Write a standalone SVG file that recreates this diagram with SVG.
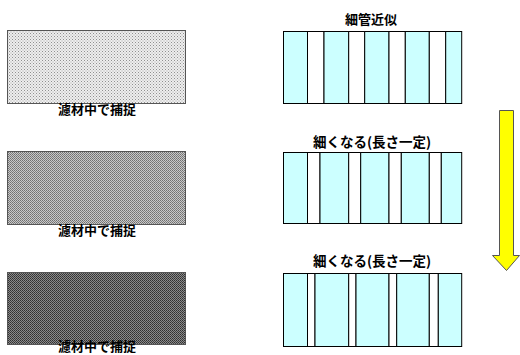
<svg xmlns="http://www.w3.org/2000/svg" width="520" height="355" viewBox="0 0 520 355">
<style>
text{font-family:"Noto Sans CJK JP","Noto Sans",sans-serif;font-weight:bold;font-size:13px;fill:#000;text-anchor:middle}
.wide{font-size:13.5px}
.filt{stroke:#555;stroke-width:1}
.cy{fill:#ccffff;stroke:#000;stroke-width:1}
.wh{fill:#fff;stroke:#000;stroke-width:1}
</style>
<defs>
<pattern id="p1" width="3" height="3" patternUnits="userSpaceOnUse">
<rect width="3" height="3" fill="#eeeeee"/>
<rect x="0" y="0" width="1" height="1" fill="#909090"/>
<rect x="1.5" y="1.5" width="1" height="1" fill="#a8a8a8"/>
</pattern>
<pattern id="p2" width="2" height="2" patternUnits="userSpaceOnUse">
<rect width="2" height="2" fill="#c8c8c8"/>
<rect x="0" y="0" width="1" height="1" fill="#707070"/>
<rect x="1" y="1" width="1" height="1" fill="#808080"/>
</pattern>
<pattern id="p3" width="2" height="2" patternUnits="userSpaceOnUse">
<rect width="2" height="2" fill="#8a8a8a"/>
<rect x="0" y="0" width="1" height="1" fill="#303030"/>
<rect x="1" y="1" width="1" height="1" fill="#404040"/>
</pattern>
</defs>
<g id="filter1">
<rect class="filt" x="7.5" y="30.5" width="178" height="73" fill="url(#p1)"/>
<text x="97" y="114">濾材中で捕捉</text>
</g>
<g id="filter2">
<rect class="filt" x="7.5" y="151.5" width="178" height="73" fill="url(#p2)"/>
<text x="97" y="235">濾材中で捕捉</text>
</g>
<g id="filter3">
<rect class="filt" x="7.5" y="272.5" width="178" height="72" fill="url(#p3)"/>
<text x="97" y="351">濾材中で捕捉</text>
</g>
<g id="tubes1">
<text x="371" y="24">細管近似</text>
<rect class="cy" x="283.5" y="31.5" width="24" height="72"/>
<rect class="wh" x="307.5" y="31.5" width="16.5" height="72"/>
<rect class="cy" x="324" y="31.5" width="24.7" height="72"/>
<rect class="wh" x="348.7" y="31.5" width="16" height="72"/>
<rect class="cy" x="364.7" y="31.5" width="24.3" height="72"/>
<rect class="wh" x="389" y="31.5" width="16.3" height="72"/>
<rect class="cy" x="405.3" y="31.5" width="24" height="72"/>
<rect class="wh" x="429.3" y="31.5" width="16.4" height="72"/>
<rect class="cy" x="445.7" y="31.5" width="16" height="72"/>
</g>
<g id="tubes2">
<text class="wide" x="372" y="147">細くなる(長さ一定)</text>
<rect class="cy" x="283.5" y="152.5" width="24" height="71"/>
<rect class="wh" x="307.5" y="152.5" width="12.5" height="71"/>
<rect class="cy" x="320" y="152.5" width="28.7" height="71"/>
<rect class="wh" x="348.7" y="152.5" width="12" height="71"/>
<rect class="cy" x="360.7" y="152.5" width="28.3" height="71"/>
<rect class="wh" x="389" y="152.5" width="12.3" height="71"/>
<rect class="cy" x="401.3" y="152.5" width="28" height="71"/>
<rect class="wh" x="429.3" y="152.5" width="12" height="71"/>
<rect class="cy" x="441.3" y="152.5" width="20.4" height="71"/>
</g>
<g id="tubes3">
<text class="wide" x="372" y="266">細くなる(長さ一定)</text>
<rect class="cy" x="283.5" y="273.5" width="24" height="73"/>
<rect class="wh" x="307.5" y="273.5" width="7.5" height="73"/>
<rect class="cy" x="315" y="273.5" width="33.7" height="73"/>
<rect class="wh" x="348.7" y="273.5" width="7.3" height="73"/>
<rect class="cy" x="356" y="273.5" width="33" height="73"/>
<rect class="wh" x="389" y="273.5" width="7.7" height="73"/>
<rect class="cy" x="396.7" y="273.5" width="32.6" height="73"/>
<rect class="wh" x="429.3" y="273.5" width="9" height="73"/>
<rect class="cy" x="438.3" y="273.5" width="23.4" height="73"/>
</g>
<g id="connectors">
<path id="arrow" d="M499.5,110.5 H513.5 V255.5 H519.5 L506.5,270.5 L492.5,255.5 H499.5 Z" fill="#ffff00" stroke="#555" stroke-width="1"/>
</g>
</svg>
